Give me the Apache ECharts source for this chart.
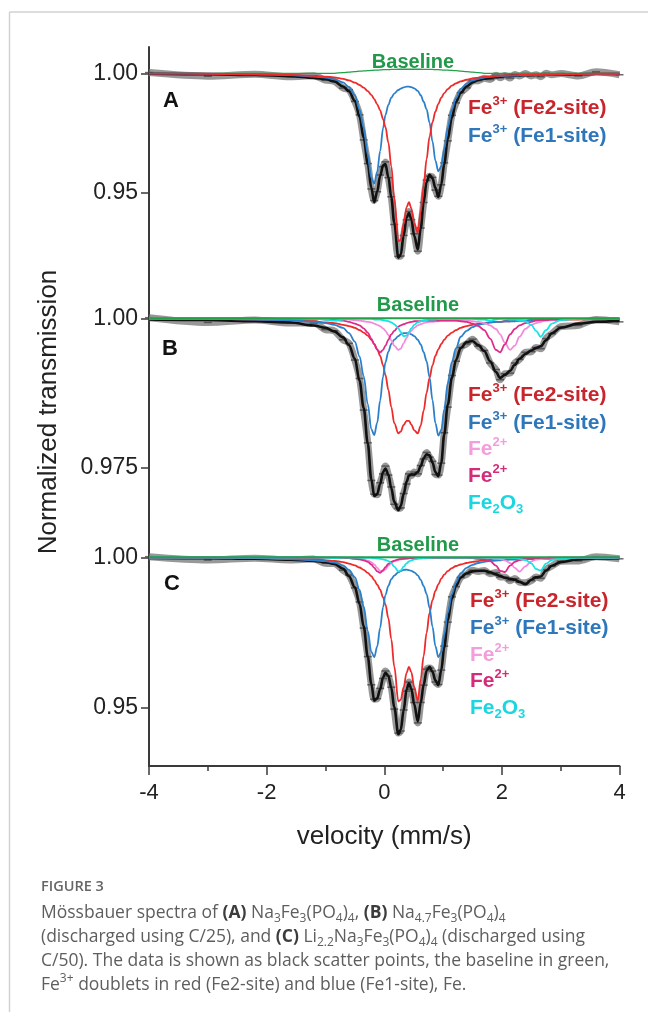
<!DOCTYPE html>
<html><head><meta charset="utf-8">
<script src="https://cdn.jsdelivr.net/npm/echarts@6/dist/echarts.min.js"></script>
<style>html,body{margin:0;padding:0;background:#fff}#c{width:648px;height:1012px}</style>
</head><body><div id="c"></div>
<script>
// shared velocity grid (mm/s)
const velocity = [-4.0,-3.0,-2.2,-1.6,-1.2,-1.0,-0.85,-0.7,-0.6,-0.5,-0.42,-0.35,-0.28,-0.22,-0.17,-0.12,-0.07,-0.02,0.02,0.07,0.12,0.17,0.24,0.28,0.33,0.38,0.42,0.46,0.51,0.57,0.62,0.67,0.72,0.77,0.82,0.87,0.92,0.97,1.02,1.08,1.15,1.22,1.3,1.4,1.5,1.6,1.7,1.8,1.9,1.97,2.05,2.14,2.22,2.3,2.4,2.5,2.58,2.66,2.75,2.85,3.0,3.3,3.6,4.0];
const baseVel = [-4.0, 4.0];

// ---- Panel A ----
const aData = [1.0003,0.9988,0.9996,0.9986,0.9990,0.9971,0.9967,0.9938,0.9931,0.9882,0.9826,0.9721,0.9622,0.9516,0.9467,0.9504,0.9574,0.9609,0.9629,0.9563,0.9483,0.9367,0.9233,0.9235,0.9321,0.9386,0.9421,0.9387,0.9328,0.9255,0.9352,0.9459,0.9552,0.9569,0.9564,0.9511,0.9485,0.9533,0.9625,0.9717,0.9824,0.9876,0.9919,0.9939,0.9968,0.9969,0.9979,0.9974,0.9992,0.9981,0.9991,0.9980,0.9995,0.9989,0.9999,0.9989,0.9994,0.9986,1.0000,0.9994,0.9999,0.9989,1.0006,0.9994];
const aFit = [0.9998,0.9996,0.9993,0.9988,0.9981,0.9976,0.9966,0.9945,0.9925,0.9885,0.9818,0.9730,0.9620,0.9520,0.9460,0.9505,0.9570,0.9615,0.9620,0.9565,0.9480,0.9375,0.9228,0.9240,0.9320,0.9395,0.9415,0.9390,0.9320,0.9262,0.9350,0.9460,0.9545,0.9575,0.9560,0.9520,0.9482,0.9535,0.9620,0.9725,0.9815,0.9880,0.9918,0.9945,0.9962,0.9972,0.9977,0.9981,0.9984,0.9986,0.9988,0.9989,0.9990,0.9991,0.9992,0.9993,0.9993,0.9994,0.9994,0.9995,0.9995,0.9996,0.9997,0.9997];
const aBaseline = [1.0000,1.0000,1.0000,1.0000,1.0000,1.0000,1.0000,1.0003,1.0005,1.0007,1.0009,1.0010,1.0011,1.0012,1.0013,1.0013,1.0014,1.0015,1.0015,1.0015,1.0016,1.0016,1.0017,1.0017,1.0017,1.0017,1.0017,1.0017,1.0017,1.0017,1.0017,1.0016,1.0016,1.0016,1.0016,1.0015,1.0015,1.0014,1.0013,1.0013,1.0012,1.0011,1.0009,1.0007,1.0005,1.0003,1.0000,1.0000,1.0000,1.0000,1.0000,1.0000,1.0000,1.0000,1.0000,1.0000,1.0000,1.0000,1.0000,1.0000,1.0000,1.0000,1.0000,1.0000];
const aFe2site = [0.9999,0.9998,0.9996,0.9993,0.9989,0.9986,0.9983,0.9977,0.9970,0.9961,0.9951,0.9940,0.9925,0.9910,0.9892,0.9870,0.9845,0.9808,0.9775,0.9710,0.9610,0.9480,0.9297,0.9302,0.9370,0.9440,0.9460,0.9435,0.9370,0.9333,0.9420,0.9530,0.9640,0.9735,0.9795,0.9840,0.9872,0.9898,0.9917,0.9934,0.9948,0.9958,0.9966,0.9973,0.9978,0.9982,0.9985,0.9987,0.9989,0.9990,0.9991,0.9991,0.9992,0.9993,0.9993,0.9994,0.9994,0.9995,0.9995,0.9995,0.9996,0.9997,0.9998,0.9998];
const aFe1site = [0.9999,0.9998,0.9996,0.9992,0.9986,0.9982,0.9975,0.9962,0.9942,0.9908,0.9848,0.9772,0.9660,0.9562,0.9538,0.9588,0.9674,0.9770,0.9825,0.9868,0.9898,0.9915,0.9930,0.9936,0.9941,0.9944,0.9944,0.9942,0.9937,0.9926,0.9908,0.9881,0.9850,0.9793,0.9715,0.9634,0.9589,0.9611,0.9682,0.9772,0.9848,0.9896,0.9935,0.9957,0.9969,0.9977,0.9982,0.9985,0.9987,0.9988,0.9989,0.9990,0.9990,0.9991,0.9992,0.9993,0.9993,0.9994,0.9994,0.9995,0.9996,0.9997,0.9997,0.9998];

// ---- Panel B ----
const bData = [1.0001,0.9993,0.9997,0.9992,0.9992,0.9981,0.9979,0.9964,0.9958,0.9930,0.9899,0.9846,0.9791,0.9728,0.9705,0.9704,0.9724,0.9739,0.9752,0.9737,0.9717,0.9688,0.9681,0.9682,0.9706,0.9722,0.9739,0.9736,0.9742,0.9739,0.9753,0.9764,0.9775,0.9767,0.9760,0.9738,0.9737,0.9757,0.9808,0.9851,0.9904,0.9928,0.9951,0.9957,0.9965,0.9953,0.9946,0.9925,0.9914,0.9897,0.9907,0.9908,0.9925,0.9931,0.9943,0.9944,0.9951,0.9949,0.9966,0.9974,0.9986,0.9988,0.9998,0.9994];
const bFit = [0.9998,0.9997,0.9995,0.9993,0.9988,0.9984,0.9978,0.9968,0.9955,0.9932,0.9895,0.9850,0.9790,0.9730,0.9702,0.9705,0.9722,0.9742,0.9748,0.9738,0.9715,0.9692,0.9678,0.9685,0.9705,0.9726,0.9736,0.9738,0.9738,0.9742,0.9752,0.9765,0.9772,0.9770,0.9758,0.9742,0.9735,0.9758,0.9805,0.9855,0.9900,0.9930,0.9950,0.9960,0.9962,0.9955,0.9945,0.9928,0.9910,0.9900,0.9905,0.9912,0.9922,0.9932,0.9940,0.9946,0.9950,0.9953,0.9963,0.9975,0.9984,0.9991,0.9994,0.9996];
const bBaseline = [1.0000, 1.0000];
const bFe2site = [0.9999,0.9999,0.9998,0.9997,0.9995,0.9993,0.9992,0.9989,0.9987,0.9984,0.9980,0.9976,0.9971,0.9964,0.9957,0.9948,0.9937,0.9921,0.9905,0.9880,0.9851,0.9824,0.9807,0.9810,0.9821,0.9828,0.9828,0.9822,0.9812,0.9807,0.9820,0.9845,0.9875,0.9900,0.9921,0.9937,0.9948,0.9957,0.9964,0.9971,0.9976,0.9980,0.9984,0.9987,0.9989,0.9991,0.9992,0.9993,0.9994,0.9994,0.9995,0.9995,0.9996,0.9996,0.9996,0.9997,0.9997,0.9997,0.9997,0.9998,0.9998,0.9998,0.9999,0.9999];
const bFe1site = [1.0000,0.9999,0.9998,0.9997,0.9994,0.9992,0.9989,0.9984,0.9975,0.9961,0.9936,0.9903,0.9856,0.9814,0.9804,0.9825,0.9862,0.9902,0.9926,0.9944,0.9957,0.9964,0.9970,0.9973,0.9975,0.9975,0.9975,0.9973,0.9970,0.9964,0.9956,0.9943,0.9928,0.9901,0.9863,0.9824,0.9803,0.9813,0.9847,0.9891,0.9927,0.9950,0.9969,0.9979,0.9985,0.9989,0.9991,0.9993,0.9994,0.9994,0.9995,0.9995,0.9995,0.9996,0.9996,0.9997,0.9997,0.9997,0.9997,0.9998,0.9998,0.9999,0.9999,0.9999];
const bFe2plusLight = [1.0000,1.0000,1.0000,0.9999,0.9999,0.9999,0.9999,0.9998,0.9998,0.9997,0.9996,0.9995,0.9994,0.9993,0.9991,0.9989,0.9987,0.9983,0.9979,0.9972,0.9963,0.9954,0.9947,0.9949,0.9958,0.9967,0.9974,0.9979,0.9984,0.9988,0.9990,0.9992,0.9993,0.9994,0.9994,0.9995,0.9995,0.9996,0.9996,0.9996,0.9996,0.9996,0.9996,0.9996,0.9995,0.9994,0.9992,0.9988,0.9982,0.9973,0.9959,0.9947,0.9954,0.9969,0.9982,0.9989,0.9992,0.9994,0.9996,0.9997,0.9998,0.9999,0.9999,1.0000];
const bFe2plusDark = [1.0000,1.0000,1.0000,0.9999,0.9999,0.9998,0.9997,0.9996,0.9994,0.9991,0.9988,0.9983,0.9976,0.9966,0.9956,0.9947,0.9943,0.9947,0.9954,0.9964,0.9973,0.9979,0.9986,0.9988,0.9990,0.9992,0.9993,0.9994,0.9995,0.9995,0.9995,0.9996,0.9996,0.9996,0.9996,0.9996,0.9996,0.9996,0.9996,0.9996,0.9996,0.9996,0.9995,0.9994,0.9991,0.9987,0.9980,0.9966,0.9947,0.9943,0.9956,0.9973,0.9982,0.9988,0.9992,0.9994,0.9996,0.9997,0.9997,0.9998,0.9998,0.9999,0.9999,1.0000];
const bFe2O3 = [1.0000,1.0000,1.0000,1.0000,0.9999,0.9998,0.9996,0.9998,0.9999,0.9999,0.9999,0.9999,0.9999,0.9999,0.9998,0.9998,0.9998,0.9997,0.9996,0.9995,0.9993,0.9990,0.9983,0.9977,0.9970,0.9971,0.9977,0.9983,0.9989,0.9993,0.9995,0.9996,0.9997,0.9998,0.9998,0.9998,0.9999,0.9999,0.9999,0.9999,0.9999,0.9999,0.9999,0.9999,0.9999,0.9998,0.9998,0.9996,0.9998,0.9999,0.9999,0.9998,0.9998,0.9997,0.9995,0.9989,0.9979,0.9969,0.9980,0.9991,0.9997,0.9999,1.0000,1.0000];

// ---- Panel C ----
const cData = [1.0002,0.9991,0.9997,0.9991,0.9994,0.9980,0.9979,0.9957,0.9941,0.9898,0.9851,0.9764,0.9669,0.9575,0.9527,0.9529,0.9563,0.9596,0.9621,0.9604,0.9567,0.9494,0.9414,0.9421,0.9491,0.9554,0.9584,0.9560,0.9516,0.9448,0.9516,0.9574,0.9627,0.9631,0.9621,0.9584,0.9576,0.9624,0.9704,0.9784,0.9868,0.9902,0.9933,0.9943,0.9957,0.9953,0.9956,0.9945,0.9949,0.9934,0.9934,0.9922,0.9929,0.9917,0.9915,0.9922,0.9934,0.9930,0.9959,0.9971,0.9987,0.9988,1.0002,0.9995];
const cFit = [0.9998,0.9997,0.9995,0.9992,0.9988,0.9984,0.9978,0.9962,0.9937,0.9900,0.9845,0.9770,0.9668,0.9578,0.9522,0.9530,0.9560,0.9600,0.9615,0.9605,0.9565,0.9500,0.9410,0.9425,0.9490,0.9560,0.9580,0.9562,0.9510,0.9453,0.9515,0.9575,0.9622,0.9635,0.9618,0.9590,0.9574,0.9625,0.9700,0.9790,0.9862,0.9905,0.9932,0.9947,0.9953,0.9955,0.9955,0.9950,0.9943,0.9938,0.9932,0.9928,0.9925,0.9918,0.9910,0.9925,0.9933,0.9936,0.9955,0.9972,0.9984,0.9993,0.9996,0.9997];
const cBaseline = [1.0000, 1.0000];
const cFe2site = [0.9999,0.9999,0.9997,0.9995,0.9992,0.9990,0.9988,0.9984,0.9979,0.9973,0.9966,0.9958,0.9948,0.9937,0.9924,0.9909,0.9892,0.9866,0.9843,0.9797,0.9727,0.9636,0.9520,0.9525,0.9567,0.9615,0.9635,0.9617,0.9568,0.9522,0.9594,0.9671,0.9748,0.9815,0.9857,0.9888,0.9910,0.9929,0.9942,0.9954,0.9964,0.9971,0.9976,0.9981,0.9985,0.9987,0.9990,0.9991,0.9992,0.9993,0.9994,0.9994,0.9994,0.9995,0.9995,0.9996,0.9996,0.9996,0.9996,0.9996,0.9997,0.9998,0.9998,0.9999];
const cFe1site = [0.9999,0.9999,0.9997,0.9994,0.9990,0.9987,0.9982,0.9973,0.9958,0.9934,0.9891,0.9836,0.9755,0.9685,0.9667,0.9703,0.9765,0.9834,0.9874,0.9905,0.9927,0.9939,0.9950,0.9954,0.9958,0.9959,0.9957,0.9955,0.9950,0.9940,0.9925,0.9904,0.9878,0.9832,0.9769,0.9704,0.9667,0.9685,0.9742,0.9815,0.9877,0.9916,0.9947,0.9965,0.9975,0.9981,0.9985,0.9988,0.9989,0.9990,0.9991,0.9992,0.9992,0.9993,0.9994,0.9994,0.9994,0.9995,0.9995,0.9996,0.9997,0.9998,0.9998,0.9998];
const cFe2plusLight = [1.0000,1.0000,1.0000,1.0000,0.9999,0.9999,0.9999,0.9998,0.9998,0.9996,0.9995,0.9993,0.9989,0.9984,0.9976,0.9965,0.9954,0.9953,0.9960,0.9972,0.9981,0.9987,0.9991,0.9993,0.9995,0.9996,0.9996,0.9997,0.9997,0.9998,0.9998,0.9998,0.9998,0.9998,0.9998,0.9998,0.9998,0.9998,0.9998,0.9998,0.9998,0.9998,0.9998,0.9998,0.9998,0.9998,0.9998,0.9997,0.9995,0.9994,0.9990,0.9981,0.9965,0.9952,0.9970,0.9986,0.9992,0.9994,0.9996,0.9997,0.9998,0.9999,0.9999,1.0000];
const cFe2plusDark = [1.0000,1.0000,1.0000,1.0000,0.9999,0.9999,0.9999,0.9998,0.9997,0.9995,0.9993,0.9990,0.9985,0.9976,0.9965,0.9953,0.9948,0.9957,0.9967,0.9978,0.9985,0.9989,0.9993,0.9994,0.9995,0.9996,0.9997,0.9997,0.9997,0.9998,0.9998,0.9998,0.9998,0.9998,0.9998,0.9998,0.9998,0.9998,0.9998,0.9998,0.9998,0.9998,0.9998,0.9998,0.9997,0.9995,0.9993,0.9987,0.9972,0.9955,0.9951,0.9972,0.9985,0.9991,0.9995,0.9996,0.9997,0.9998,0.9998,0.9999,0.9999,0.9999,1.0000,1.0000];
const cFe2O3 = [1.0000,1.0000,1.0000,1.0000,1.0000,0.9999,0.9997,0.9999,0.9999,0.9999,0.9999,0.9998,0.9998,0.9998,0.9997,0.9996,0.9995,0.9993,0.9991,0.9987,0.9980,0.9969,0.9953,0.9956,0.9969,0.9980,0.9986,0.9990,0.9993,0.9995,0.9996,0.9997,0.9998,0.9998,0.9999,0.9999,0.9999,0.9999,0.9999,0.9999,0.9999,0.9999,0.9999,0.9999,0.9999,0.9999,0.9999,0.9999,0.9999,0.9999,0.9998,0.9998,0.9997,0.9995,0.9991,0.9980,0.9961,0.9956,0.9979,0.9991,0.9996,0.9999,0.9999,1.0000];

// axis ticks
const yTicksA = [0.95, 1.00], yTickTextA = ['0.95', '1.00'];
const yTicksB = [0.975, 1.00], yTickTextB = ['0.975', '1.00'];
const yTicksC = [0.95, 1.00], yTickTextC = ['0.95', '1.00'];

const COL = {fit:'#111111', red:'#ee2a2a', blue:'#2b80cc', pink:'#f38bdd', magenta:'#de2a88', cyan:'#1be2e6', green:'#22a04a'};
const TXT = {red:'#c8262c', blue:'#2e77bb', pink:'#f39ddc', magenta:'#d42c7a', cyan:'#1ad6e0', green:'#22994a'};
const FONT = 'Liberation Sans';

function pairs(xs, ys){ return xs.map((x,i)=>[x, ys[i]]); }
function lineS(g, xs, ys, color, width, z){
  return {type:'line', xAxisIndex:g, yAxisIndex:g, data:pairs(xs, ys), smooth:0.35, smoothMonotone:'x',
    showSymbol:false, symbol:'none', lineStyle:{color:color, width:width}, z:z, silent:true};
}
function dataS(g, ys){
  return [
    {type:'line', xAxisIndex:g, yAxisIndex:g, data:pairs(velocity, ys), smooth:0.3, showSymbol:false, symbol:'none',
      lineStyle:{color:'#7e7e7e', width:7, opacity:0.8}, z:1, silent:true},
    {type:'scatter', xAxisIndex:g, yAxisIndex:g, data:pairs(velocity, ys), symbol:'rect', symbolSize:[8,1.5],
      itemStyle:{color:'#444444'}, z:2, silent:true}
  ];
}
const series = [
  ...dataS(0, aData),
  lineS(0, velocity, aFit, COL.fit, 2.6, 3),
  lineS(0, velocity, aBaseline, COL.green, 1.3, 4),
  lineS(0, velocity, aFe1site, COL.blue, 1.8, 5),
  lineS(0, velocity, aFe2site, COL.red, 1.8, 6),

  ...dataS(1, bData),
  lineS(1, velocity, bFit, COL.fit, 2.6, 3),
  lineS(1, velocity, bFe2site, COL.red, 1.8, 4),
  lineS(1, velocity, bFe1site, COL.blue, 1.8, 5),
  lineS(1, velocity, bFe2plusLight, COL.pink, 1.8, 6),
  lineS(1, velocity, bFe2plusDark, COL.magenta, 1.8, 7),
  lineS(1, velocity, bFe2O3, COL.cyan, 1.8, 8),
  lineS(1, baseVel, bBaseline, COL.green, 2, 9),

  ...dataS(2, cData),
  lineS(2, velocity, cFit, COL.fit, 2.6, 3),
  lineS(2, velocity, cFe2site, COL.red, 1.8, 4),
  lineS(2, velocity, cFe1site, COL.blue, 1.8, 5),
  lineS(2, velocity, cFe2plusLight, COL.pink, 1.8, 6),
  lineS(2, velocity, cFe2plusDark, COL.magenta, 1.8, 7),
  lineS(2, velocity, cFe2O3, COL.cyan, 1.8, 8),
  lineS(2, baseVel, cBaseline, COL.green, 2, 9)
];

function yAx(g, min, max, ticks, texts){
  return {type:'value', gridIndex:g, min:min, max:max,
    axisLine:{show:true, onZero:false, lineStyle:{color:'#3a3a3a', width:2}},
    axisTick:{show:true, length:8, customValues:ticks, lineStyle:{color:'#3a3a3a', width:1.5}},
    axisLabel:{show:true, customValues:ticks, margin:11, fontSize:23, fontFamily:FONT, color:'#222',
      formatter:function(v){ const i = ticks.findIndex(t=>Math.abs(t-v)<1e-7); return i>=0 ? texts[i] : ''; }},
    splitLine:{show:false}};
}
const xHidden = g => ({type:'value', gridIndex:g, min:-4, max:4, show:false, axisLine:{onZero:false}, splitLine:{show:false}});

const SUPTXT = (color) => ({
  t:{fontSize:21, fontWeight:'bold', fontFamily:FONT, fill:color, lineHeight:26},
  sup:{fontSize:13, fontWeight:'bold', fontFamily:FONT, fill:color, lineHeight:14, verticalAlign:'top'},
  sub:{fontSize:13, fontWeight:'bold', fontFamily:FONT, fill:color, lineHeight:14, verticalAlign:'bottom'}
});
function label(x, y, text, color){
  return {type:'text', x:x, y:y, silent:true, z:100,
    style:{text:text, rich:SUPTXT(color), fontSize:21, fontWeight:'bold', fontFamily:FONT, fill:color,
      align:'left', verticalAlign:'middle', textAlign:'left', textVerticalAlign:'middle'}};
}
function plain(x, y, text, color, size, weight, align){
  return {type:'text', x:x, y:y, silent:true, z:100,
    style:{text:text, fontSize:size, fontWeight:weight, fontFamily:FONT, fill:color,
      align:align, verticalAlign:'middle', textAlign:align, textVerticalAlign:'middle'}};
}
const FE3_2 = '{t|Fe}{sup|3+}{t| (Fe2-site)}';
const FE3_1 = '{t|Fe}{sup|3+}{t| (Fe1-site)}';
const FE2 = '{t|Fe}{sup|2+}';
const FEO = '{t|Fe}{sub|2}{t|O}{sub|3}';

const capRich = {
  b:{fontFamily:'Open Sans', fontSize:17.5, fontWeight:'bold', fill:'#3c3c3c', lineHeight:24},
  s:{fontFamily:'Open Sans', fontSize:12, fill:'#5e5e5e', lineHeight:13, verticalAlign:'bottom'},
  p:{fontFamily:'Open Sans', fontSize:12, fill:'#5e5e5e', lineHeight:13, verticalAlign:'top'}
};
function cap(y, text){
  return {type:'text', x:41, y:y, silent:true,
    style:{text:text, rich:capRich, fontFamily:'Open Sans', fontSize:17.5, fill:'#5e5e5e', lineHeight:24,
      align:'left', verticalAlign:'middle', textAlign:'left', textVerticalAlign:'middle'}};
}

const graphic = [
  {type:'line', silent:true, shape:{x1:9.5, y1:12, x2:648, y2:12}, style:{stroke:'#d2d2d2', lineWidth:1.5}},
  {type:'line', silent:true, shape:{x1:9.5, y1:12, x2:9.5, y2:1012}, style:{stroke:'#d2d2d2', lineWidth:1.5}},
  // y axis title
  {type:'text', x:49, y:412, rotation:Math.PI/2, silent:true,
    style:{text:'Normalized transmission', fontSize:26, fontFamily:FONT, fill:'#222', align:'center', verticalAlign:'middle', textAlign:'center', textVerticalAlign:'middle'}},
  // panel letters
  plain(171, 101, 'A', '#111', 22, 'bold', 'center'),
  plain(170, 349, 'B', '#111', 22, 'bold', 'center'),
  plain(172, 584, 'C', '#111', 22, 'bold', 'center'),
  // Baseline labels
  plain(413, 62, 'Baseline', TXT.green, 20, 'bold', 'center'),
  plain(418, 305, 'Baseline', TXT.green, 20, 'bold', 'center'),
  plain(418, 545, 'Baseline', TXT.green, 20, 'bold', 'center'),
  // legends A
  label(468, 108, FE3_2, TXT.red),
  label(468, 136, FE3_1, TXT.blue),
  // legends B
  label(468, 395, FE3_2, TXT.red),
  label(468, 423, FE3_1, TXT.blue),
  label(468, 449, FE2, TXT.pink),
  label(468, 476, FE2, TXT.magenta),
  label(468, 503, FEO, TXT.cyan),
  // legends C
  label(470, 601, FE3_2, TXT.red),
  label(470, 628, FE3_1, TXT.blue),
  label(470, 655, FE2, TXT.pink),
  label(470, 681, FE2, TXT.magenta),
  label(470, 708, FEO, TXT.cyan),
  // caption
  {type:'text', x:41, y:887, silent:true, style:{text:'FIGURE 3', fontFamily:'Open Sans', fontSize:14.5, fontWeight:600, fill:'#666',
    align:'left', verticalAlign:'middle', textAlign:'left', textVerticalAlign:'middle'}},
  cap(913, 'Mössbauer spectra of {b|(A)} Na{s|3}Fe{s|3}(PO{s|4}){s|4}, {b|(B)} Na{s|4.7}Fe{s|3}(PO{s|4}){s|4}'),
  cap(937, '(discharged using C/25), and {b|(C)} Li{s|2.2}Na{s|3}Fe{s|3}(PO{s|4}){s|4} (discharged using'),
  cap(961, 'C/50). The data is shown as black scatter points, the baseline in green,'),
  cap(985, 'Fe{p|3+} doublets in red (Fe2-site) and blue (Fe1-site), Fe.')
];

const chart = echarts.init(document.getElementById('c'), null, {renderer:'canvas'});
chart.setOption({
  animation:false,
  backgroundColor:'#ffffff',
  grid:[
    {left:149, right:28.5, top:47, height:223},
    {left:149, right:28.5, top:270, height:250},
    {left:149, right:28.5, top:520, height:246}
  ],
  xAxis:[
    xHidden(0), xHidden(1),
    {type:'value', gridIndex:2, min:-4, max:4, interval:2,
      axisLine:{show:true, onZero:false, lineStyle:{color:'#3a3a3a', width:2}},
      axisTick:{show:true, length:9, lineStyle:{color:'#3a3a3a', width:1.5}},
      minorTick:{show:true, splitNumber:2, length:5, lineStyle:{color:'#3a3a3a', width:1.5}},
      axisLabel:{fontSize:22, margin:16, fontFamily:FONT, color:'#222'},
      splitLine:{show:false}, minorSplitLine:{show:false},
      name:'velocity (mm/s)', nameLocation:'middle', nameGap:58,
      nameTextStyle:{fontSize:26, fontFamily:FONT, color:'#222'}}
  ],
  yAxis:[
    yAx(0, 0.91763, 1.01101, yTicksA, yTickTextA),
    yAx(1, 0.96616, 1.00810, yTicksB, yTickTextB),
    yAx(2, 0.93043, 1.01243, yTicksC, yTickTextC)
  ],
  series: series,
  graphic: graphic
});
</script>
</body></html>
